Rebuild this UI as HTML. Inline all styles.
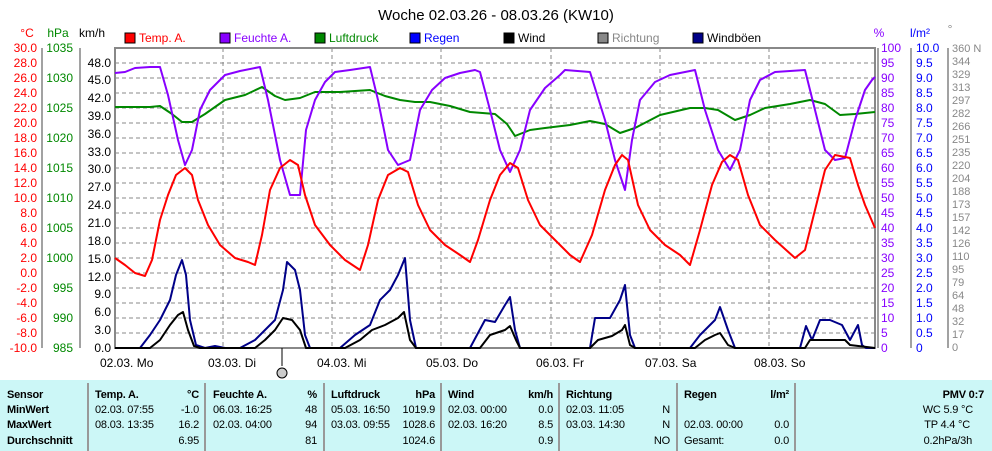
<!DOCTYPE html>
<html><head><meta charset="utf-8"><style>
body{margin:0;background:#fff;}
svg{display:block;font-family:"Liberation Sans",sans-serif;font-size:12px;}
</style></head><body>
<svg width="992" height="451" viewBox="0 0 992 451" xmlns="http://www.w3.org/2000/svg">
<rect width="992" height="451" fill="#fff"/>
<text x="496" y="20" text-anchor="middle" font-size="15" fill="#000">Woche 02.03.26 - 08.03.26 (KW10)</text>
<g font-size="12">
<rect x="125" y="33" width="10" height="10" fill="#f00" stroke="#000"/><text x="139" y="42" fill="#f00">Temp. A.</text>
<rect x="220" y="33" width="10" height="10" fill="#80f" stroke="#000"/><text x="234" y="42" fill="#80f">Feuchte A.</text>
<rect x="315" y="33" width="10" height="10" fill="#080" stroke="#000"/><text x="329" y="42" fill="#080">Luftdruck</text>
<rect x="410" y="33" width="10" height="10" fill="#00f" stroke="#000"/><text x="424" y="42" fill="#00f">Regen</text>
<rect x="504" y="33" width="10" height="10" fill="#000" stroke="#000"/><text x="518" y="42" fill="#000">Wind</text>
<rect x="598" y="33" width="10" height="10" fill="#888" stroke="#000"/><text x="612" y="42" fill="#888">Richtung</text>
<rect x="693" y="33" width="10" height="10" fill="#008" stroke="#000"/><text x="707" y="42" fill="#000">Windböen</text>
</g>
<text x="27" y="37" fill="#f00" text-anchor="middle">°C</text>
<text x="58" y="37" fill="#080" text-anchor="middle">hPa</text>
<text x="92" y="37" fill="#000" text-anchor="middle">km/h</text>
<text x="879" y="37" fill="#80f" text-anchor="middle">%</text>
<text x="920" y="37" fill="#00f" text-anchor="middle">l/m²</text>
<text x="950" y="33" fill="#888" text-anchor="middle">°</text>
<g stroke="#888" stroke-dasharray="4,3" stroke-width="1">
<line x1="115" x2="875" y1="63" y2="63"/><line x1="115" x2="875" y1="78" y2="78"/><line x1="115" x2="875" y1="93" y2="93"/><line x1="115" x2="875" y1="108" y2="108"/><line x1="115" x2="875" y1="123" y2="123"/><line x1="115" x2="875" y1="138" y2="138"/><line x1="115" x2="875" y1="153" y2="153"/><line x1="115" x2="875" y1="168" y2="168"/><line x1="115" x2="875" y1="183" y2="183"/><line x1="115" x2="875" y1="198" y2="198"/><line x1="115" x2="875" y1="213" y2="213"/><line x1="115" x2="875" y1="228" y2="228"/><line x1="115" x2="875" y1="243" y2="243"/><line x1="115" x2="875" y1="258" y2="258"/><line x1="115" x2="875" y1="273" y2="273"/><line x1="115" x2="875" y1="288" y2="288"/><line x1="115" x2="875" y1="303" y2="303"/><line x1="115" x2="875" y1="318" y2="318"/><line x1="115" x2="875" y1="333" y2="333"/>
<line x1="223" x2="223" y1="48" y2="348"/><line x1="332" x2="332" y1="48" y2="348"/><line x1="441" x2="441" y1="48" y2="348"/><line x1="551" x2="551" y1="48" y2="348"/><line x1="660" x2="660" y1="48" y2="348"/><line x1="769" x2="769" y1="48" y2="348"/>
</g>
<rect x="115" y="48" width="760" height="300" fill="none" stroke="#888" stroke-width="2"/>
<g stroke="#444"><line x1="42" x2="42" y1="48" y2="348"/><line x1="80" x2="80" y1="48" y2="348"/><line x1="878" x2="878" y1="48" y2="348"/><line x1="911" x2="911" y1="48" y2="348"/><line x1="948" x2="948" y1="48" y2="348"/></g>
<g fill="#f00" text-anchor="end">
<text x="37" y="52">30.0</text><text x="37" y="67">28.0</text><text x="37" y="82">26.0</text><text x="37" y="97">24.0</text><text x="37" y="112">22.0</text><text x="37" y="127">20.0</text><text x="37" y="142">18.0</text><text x="37" y="157">16.0</text><text x="37" y="172">14.0</text><text x="37" y="187">12.0</text><text x="37" y="202">10.0</text><text x="37" y="217">8.0</text><text x="37" y="232">6.0</text><text x="37" y="247">4.0</text><text x="37" y="262">2.0</text><text x="37" y="277">0.0</text><text x="37" y="292">-2.0</text><text x="37" y="307">-4.0</text><text x="37" y="322">-6.0</text><text x="37" y="337">-8.0</text><text x="37" y="352">-10.0</text>
</g>
<g fill="#080" text-anchor="end">
<text x="73" y="52">1035</text><text x="73" y="82">1030</text><text x="73" y="112">1025</text><text x="73" y="142">1020</text><text x="73" y="172">1015</text><text x="73" y="202">1010</text><text x="73" y="232">1005</text><text x="73" y="262">1000</text><text x="73" y="292">995</text><text x="73" y="322">990</text><text x="73" y="352">985</text>
</g>
<g fill="#000" text-anchor="end">
<text x="111" y="67">48.0</text><text x="111" y="84">45.0</text><text x="111" y="102">42.0</text><text x="111" y="120">39.0</text><text x="111" y="138">36.0</text><text x="111" y="156">33.0</text><text x="111" y="173">30.0</text><text x="111" y="191">27.0</text><text x="111" y="209">24.0</text><text x="111" y="227">21.0</text><text x="111" y="245">18.0</text><text x="111" y="263">15.0</text><text x="111" y="281">12.0</text><text x="111" y="298">9.0</text><text x="111" y="316">6.0</text><text x="111" y="334">3.0</text><text x="111" y="352">0.0</text>
</g>
<g fill="#80f">
<text x="881" y="52">100</text><text x="881" y="67">95</text><text x="881" y="82">90</text><text x="881" y="97">85</text><text x="881" y="112">80</text><text x="881" y="127">75</text><text x="881" y="142">70</text><text x="881" y="157">65</text><text x="881" y="172">60</text><text x="881" y="187">55</text><text x="881" y="202">50</text><text x="881" y="217">45</text><text x="881" y="232">40</text><text x="881" y="247">35</text><text x="881" y="262">30</text><text x="881" y="277">25</text><text x="881" y="292">20</text><text x="881" y="307">15</text><text x="881" y="322">10</text><text x="881" y="337">5</text><text x="881" y="352">0</text>
</g>
<g fill="#00f">
<text x="916" y="52">10.0</text><text x="916" y="67">9.5</text><text x="916" y="82">9.0</text><text x="916" y="97">8.5</text><text x="916" y="112">8.0</text><text x="916" y="127">7.5</text><text x="916" y="142">7.0</text><text x="916" y="157">6.5</text><text x="916" y="172">6.0</text><text x="916" y="187">5.5</text><text x="916" y="202">5.0</text><text x="916" y="217">4.5</text><text x="916" y="232">4.0</text><text x="916" y="247">3.5</text><text x="916" y="262">3.0</text><text x="916" y="277">2.5</text><text x="916" y="292">2.0</text><text x="916" y="307">1.5</text><text x="916" y="322">1.0</text><text x="916" y="337">0.5</text><text x="916" y="352">0</text>
</g>
<g fill="#888" font-size="11">
<text x="952" y="52">360 N</text><text x="952" y="65">344</text><text x="952" y="78">329</text><text x="952" y="91">313</text><text x="952" y="104">297</text><text x="952" y="117">282</text><text x="952" y="130">266</text><text x="952" y="143">251</text><text x="952" y="156">235</text><text x="952" y="169">220</text><text x="952" y="182">204</text><text x="952" y="195">188</text><text x="952" y="208">173</text><text x="952" y="221">157</text><text x="952" y="234">142</text><text x="952" y="247">126</text><text x="952" y="260">110</text><text x="952" y="273">95</text><text x="952" y="286">79</text><text x="952" y="299">64</text><text x="952" y="312">48</text><text x="952" y="325">32</text><text x="952" y="338">17</text><text x="952" y="351">0</text>
</g>
<g fill="none" stroke-width="2" stroke-linejoin="round">
<polyline stroke="#080" points="115,107 150,107 160,106 172,114 182,122 192,122 205,114 225,100 245,95 262,87 275,96 285,100 300,98 315,92 340,92 370,90 385,96 400,100 415,102 430,102 450,106 470,112 495,114 507,124 515,136 530,130 545,128 570,125 590,121 605,124 620,133 635,128 660,115 690,108 705,108 718,110 735,120 750,115 765,108 790,104 810,100 825,104 840,115 855,114 875,112"/>
<polyline stroke="#80f" points="115,73 125,72 135,68 150,67 160,67 168,95 178,140 185,165 192,150 200,110 210,90 225,75 240,71 260,67 268,100 280,160 290,195 300,195 306,130 315,100 325,82 335,72 350,70 370,67 378,100 388,150 398,165 410,160 420,110 432,90 445,78 460,73 475,70 480,72 490,110 500,150 510,172 520,150 530,110 545,88 560,75 565,70 590,72 605,120 615,160 625,190 632,140 640,100 655,82 670,75 695,70 705,110 718,150 730,170 740,150 750,100 760,80 775,72 805,70 815,110 825,150 835,160 845,158 855,120 865,90 872,80 875,77"/>
<polyline stroke="#f00" points="115,258 125,265 135,273 145,276 152,260 160,220 168,195 176,175 185,168 192,175 198,200 208,225 220,245 235,258 248,262 255,265 262,235 270,190 280,168 290,160 298,165 305,195 315,225 330,245 345,260 360,270 368,245 378,200 388,175 400,168 408,172 418,205 430,230 445,245 460,255 470,262 478,240 490,200 500,175 510,163 518,168 528,200 540,225 555,240 570,255 580,262 592,235 605,190 615,165 622,155 628,160 638,205 650,230 665,245 680,255 690,265 700,230 712,185 722,162 730,155 738,160 748,195 760,225 775,240 795,258 805,250 815,210 825,170 835,155 850,158 858,185 865,205 875,228"/>
<polyline stroke="#008" points="115,348 140,348 150,335 160,320 170,300 176,275 182,260 186,275 190,320 196,345 205,348 215,346 225,348 240,348 255,340 265,330 275,320 283,290 287,262 295,270 300,290 305,335 310,348 340,348 355,335 370,325 380,300 390,290 398,275 405,258 410,320 416,348 470,348 485,320 495,322 505,305 510,297 515,330 520,348 590,348 595,318 610,318 620,300 625,285 630,335 635,348 690,348 700,335 715,320 720,307 728,330 735,348 800,348 806,326 812,340 820,320 830,320 842,325 850,340 858,325 862,345 866,348 875,348"/>
<polyline stroke="#000" points="115,348 150,348 160,340 170,325 178,315 183,312 188,330 194,346 200,348 255,348 265,340 275,330 283,318 292,320 300,330 306,348 345,348 360,340 372,330 385,325 398,318 404,312 410,340 416,348 480,348 490,335 505,330 510,326 516,340 520,348 590,348 598,340 612,336 622,330 625,325 630,345 635,348 695,348 705,340 715,335 720,333 728,345 735,348 805,348 810,340 830,340 845,340 850,345 875,348"/>
</g>
<g fill="#000" font-size="12">
<text x="100" y="367">02.03.  Mo</text><text x="208" y="367">03.03.  Di</text><text x="317" y="367">04.03.  Mi</text><text x="426" y="367">05.03.  Do</text><text x="536" y="367">06.03.  Fr</text><text x="645" y="367">07.03.  Sa</text><text x="754" y="367">08.03.  So</text>
</g>
<line x1="282" y1="348" x2="282" y2="366" stroke="#000"/>
<circle cx="282" cy="373" r="5" fill="#ccc" stroke="#000"/>
<rect x="0" y="380" width="992" height="71" fill="#ccf7f7"/>
<g stroke="#999" stroke-width="2"><line x1="88" x2="88" y1="383" y2="451"/><line x1="205" x2="205" y1="383" y2="451"/><line x1="324" x2="324" y1="383" y2="451"/><line x1="441" x2="441" y1="383" y2="451"/><line x1="559" x2="559" y1="383" y2="451"/><line x1="677" x2="677" y1="383" y2="451"/><line x1="795" x2="795" y1="383" y2="451"/></g>
<g font-size="11" fill="#000" letter-spacing="-0.2">
<g font-weight="bold"><text x="7" y="398">Sensor</text><text x="7" y="413">MinWert</text><text x="7" y="428">MaxWert</text><text x="7" y="444">Durchschnitt</text>
<text x="95" y="398">Temp. A.</text><text x="213" y="398">Feuchte A.</text><text x="331" y="398">Luftdruck</text><text x="448" y="398">Wind</text><text x="566" y="398">Richtung</text><text x="684" y="398">Regen</text><text x="984" y="398" text-anchor="end">PMV 0:7</text></g>
<g text-anchor="end" font-weight="bold"><text x="199" y="398">°C</text><text x="317" y="398">%</text><text x="435" y="398">hPa</text><text x="553" y="398">km/h</text><text x="789" y="398">l/m²</text></g>
<text x="95" y="413">02.03.  07:55</text><text x="95" y="428">08.03.  13:35</text>
<g text-anchor="end"><text x="199" y="413">-1.0</text><text x="199" y="428">16.2</text><text x="199" y="444">6.95</text></g>
<text x="213" y="413">06.03.  16:25</text><text x="213" y="428">02.03.  04:00</text>
<g text-anchor="end"><text x="317" y="413">48</text><text x="317" y="428">94</text><text x="317" y="444">81</text></g>
<text x="331" y="413">05.03.  16:50</text><text x="331" y="428">03.03.  09:55</text>
<g text-anchor="end"><text x="435" y="413">1019.9</text><text x="435" y="428">1028.6</text><text x="435" y="444">1024.6</text></g>
<text x="448" y="413">02.03.  00:00</text><text x="448" y="428">02.03.  16:20</text>
<g text-anchor="end"><text x="553" y="413">0.0</text><text x="553" y="428">8.5</text><text x="553" y="444">0.9</text></g>
<text x="566" y="413">02.03.  11:05</text><text x="566" y="428">03.03.  14:30</text>
<g text-anchor="end"><text x="670" y="413">N</text><text x="670" y="428">N</text><text x="670" y="444">NO</text></g>
<text x="684" y="428">02.03.  00:00</text><text x="684" y="444">Gesamt:</text>
<g text-anchor="end"><text x="789" y="428">0.0</text><text x="789" y="444">0.0</text>
<text x="973" y="413">WC 5.9 °C</text><text x="970" y="428">TP 4.4 °C</text><text x="972" y="444">0.2hPa/3h</text></g>
</g>
</svg>
</body></html>
